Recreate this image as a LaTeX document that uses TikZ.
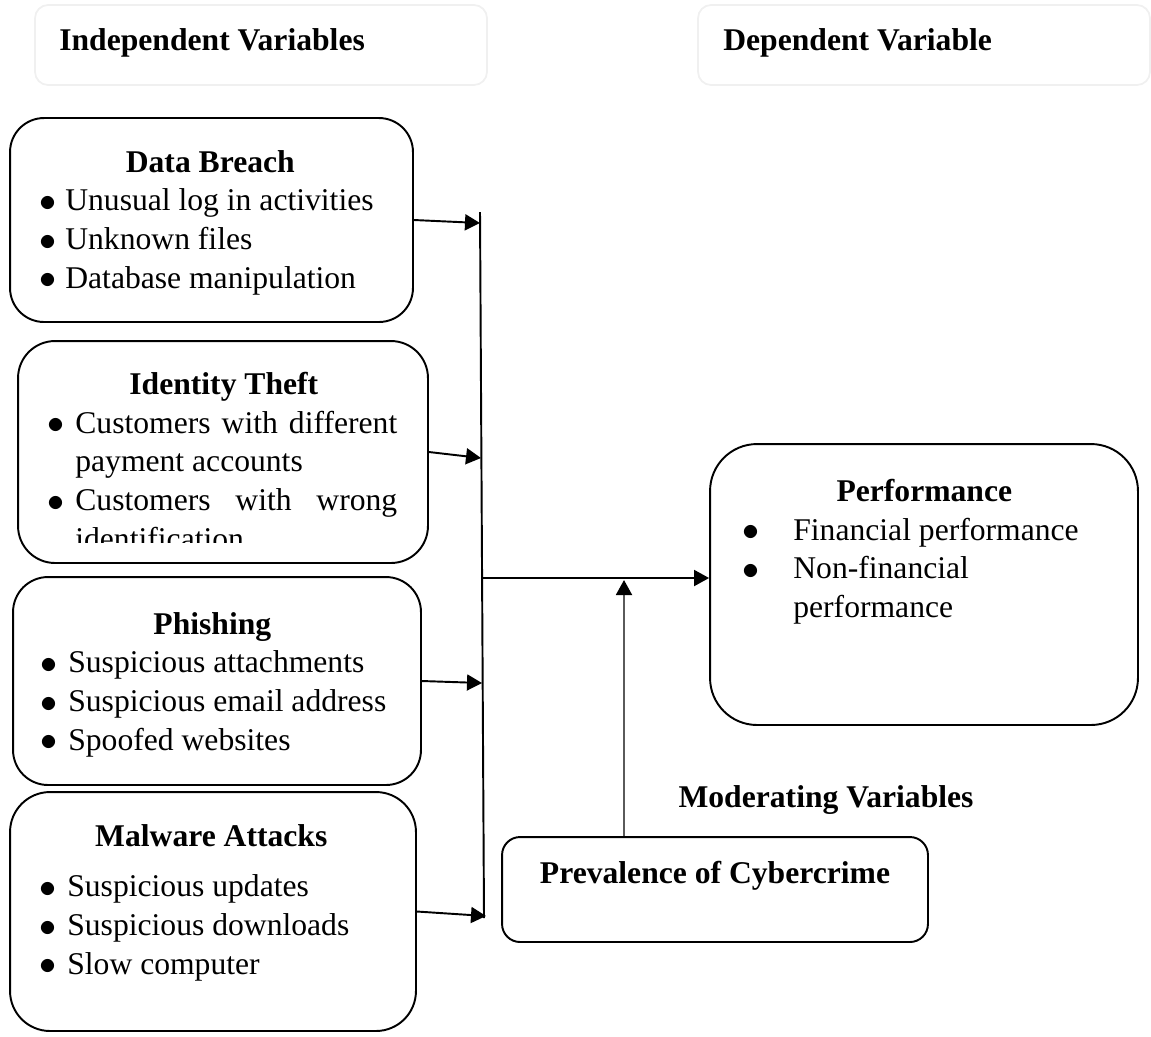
\documentclass[tikz,border=0pt]{standalone}
\usepackage{fontspec}
\setmainfont{Liberation Serif}
\usepackage{graphicx}
\usepackage{xcolor}
\usepackage{tikz}
\usetikzlibrary{arrows.meta, positioning}
\definecolor{hdr_gray}{RGB}{240,240,240}
\definecolor{mod_gray}{RGB}{90,90,90}
\newcommand{\vitem}[2]{\par\hangindent=#1\hangafter=1\noindent\makebox[#1][l]{\kern-0.1em\raisebox{-0.02em}{\scalebox{1.12}{$\bullet$}}}#2}
\newcommand{\vtitle}[2]{\noindent\makebox[#1]{\bfseries #2}\par}

\begin{document}
\begin{tikzpicture}[x=0.02cm, y=-0.02cm,
    hdrbox/.style={draw=hdr_gray, line width=1pt, rounded corners=0.26cm, minimum width=9.04cm, minimum height=1.6cm},
    varbox/.style={draw, line width=1.1pt},
    bodytext/.style={inner sep=0pt, anchor=north west, font={\fontsize{18}{22}\selectfont\hyphenpenalty=10000\exhyphenpenalty=10000}},
    headtext/.style={inner sep=0pt, font={\bfseries\fontsize{18}{22}\selectfont}},
    arr/.style={line width=1.1pt, -{Triangle[length=0.3cm, width=0.32cm]}},
    modarr/.style={line width=1.1pt, draw=mod_gray, -{Triangle[length=0.3cm, width=0.32cm, color=black]}}]
    \useasboundingbox (0,0) rectangle (1151,1036);

    % Headings
    \node[hdrbox] (indepbox) at (261,45) {};
    \node[headtext, anchor=base west] (indep) at (59,50) {Independent Variables};
    \node[hdrbox] (depbox) at (924,45) {};
    \node[headtext, anchor=base west] (dep) at (723,50) {Dependent Variable};

    % Independent variables
    \node[varbox, rounded corners=0.68cm, minimum width=8.06cm, minimum height=4.08cm] (breach) at (211.5,220) {};
    \node[bodytext, text width=7.2cm, align=flush left] (breachtxt) at (42,150) {\vtitle{6.72cm}{Data Breach}
        \vitem{0.46cm}{Unusual log in activities}
        \vitem{0.46cm}{Unknown files}
        \vitem{0.46cm}{Database manipulation}\par};

    \node[varbox, rounded corners=0.74cm, minimum width=8.2cm, minimum height=4.44cm] (identity) at (223,452) {};
    \begin{scope}
        \clip (18,341) rectangle (428,542);
        \node[bodytext, text width=6.94cm, align=justify] (identitytxt) at (50,372) {\vtitle{6.94cm}{Identity Theft}
            \vitem{0.5cm}{Customers with different payment accounts}
            \vitem{0.5cm}{Customers with wrong identification}\par};
    \end{scope}

    \node[varbox, rounded corners=0.7cm, minimum width=8.16cm, minimum height=4.16cm] (phishing) at (217,681) {};
    \node[bodytext, text width=7.2cm, align=flush left] (phishingtxt) at (43,612) {\vtitle{6.76cm}{Phishing}
        \vitem{0.5cm}{Suspicious attachments}
        \vitem{0.5cm}{Suspicious email address}
        \vitem{0.5cm}{Spoofed websites}\par};

    \node[varbox, rounded corners=0.8cm, minimum width=8.12cm, minimum height=4.78cm] (malware) at (213,911.5) {};
    \node[bodytext, text width=7.2cm, align=flush left] (malwaretxt) at (42,824) {\vtitle{6.76cm}{Malware Attacks}\vspace{0.24cm}
        \vitem{0.5cm}{Suspicious updates}
        \vitem{0.5cm}{Suspicious downloads}
        \vitem{0.5cm}{Slow computer}\par};

    % Dependent variable
    \node[varbox, rounded corners=0.94cm, minimum width=8.56cm, minimum height=5.62cm] (perf) at (924,584.5) {};
    \node[bodytext, text width=7.16cm, align=flush left] (perftxt) at (745,479) {\vtitle{7.16cm}{Performance}
        \vitem{0.96cm}{Financial performance}
        \vitem{0.96cm}{Non-financial performance}\par};

    % Moderating variable
    \node[headtext, anchor=base] (moder) at (826,807) {Moderating Variables};
    \node[varbox, rounded corners=0.36cm, minimum width=8.52cm, minimum height=2.1cm] (prev) at (715,889.5) {};
    \node[headtext, anchor=base] (prevtxt) at (715,883) {Prevalence of Cybercrime};

    % Connectors
    \coordinate (bustop) at (480,212);
    \coordinate (busbot) at (484,918);
    \draw[line width=1.1pt] (bustop) -- (busbot);
    \coordinate (inA) at (480,223);
    \coordinate (inB) at (481,458);
    \coordinate (inC) at (482,683);
    \coordinate (inD) at (486,916);
    \draw[arr] (breach.east) -- (inA);
    \draw[arr] (identity.east) -- (inB);
    \draw[arr] (phishing.east) -- (inC);
    \draw[arr] (malware.east) -- (inD);
    \coordinate (busmid) at (482,578);
    \draw[arr] (busmid) -- (busmid -| perf.west);
    \coordinate (modin) at (624,580);
    \draw[modarr] (prev.north -| modin) -- (modin);
\end{tikzpicture}
\end{document}
